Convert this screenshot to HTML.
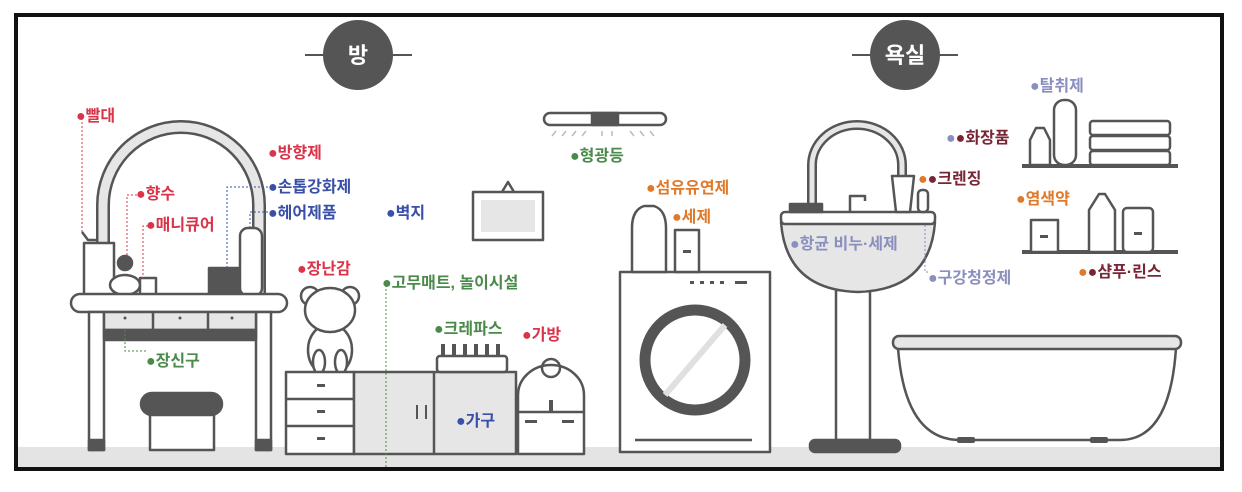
<!DOCTYPE html>
<html><head><meta charset="utf-8"><style>
html,body{margin:0;padding:0;background:#fff}
svg{display:block}
text{font-family:"Liberation Sans","Noto Sans CJK KR",sans-serif;font-weight:bold;font-size:16px}
</style></head><body>
<svg width="1242" height="492" viewBox="0 0 1242 492" xmlns="http://www.w3.org/2000/svg">
<rect x="0" y="0" width="1242" height="492" fill="#fff"/>
<rect x="16" y="447" width="1206" height="21" fill="#e4e4e4"/>
<rect x="16" y="15" width="1206" height="454" fill="none" stroke="#111" stroke-width="4"/>
<g stroke="#555" fill="none" stroke-width="2">
<line x1="305" y1="55" x2="412" y2="55"/><line x1="852" y1="55" x2="958" y2="55"/>
</g>
<circle cx="358" cy="55" r="35" fill="#555"/>
<circle cx="905" cy="55" r="35" fill="#555"/>
<text x="358" y="63" fill="#fff" text-anchor="middle" style="font-size:22px">방</text>
<text x="905" y="63" fill="#fff" text-anchor="middle" style="font-size:22px">욕실</text>

<g stroke="#555" stroke-width="2.5" fill="#fff" stroke-linejoin="round">
<path d="M103,296 V205 A78,78 0 0 1 259,205 V296" fill="none" stroke="#555" stroke-width="14"/>
<path d="M103,296 V205 A78,78 0 0 1 259,205 V296" fill="none" stroke="#e6e6e6" stroke-width="9"/>
<rect x="240" y="228" width="22" height="68" rx="8" fill="#fff"/>
<rect x="84" y="243" width="30" height="52" fill="#fff"/>
<path d="M82,232 l6,8 h10" fill="none"/>
<circle cx="125" cy="263" r="7" fill="#555"/>
<ellipse cx="125" cy="285" rx="15" ry="10"/>
<rect x="140" y="278" width="16" height="17"/>
<rect x="209" y="268" width="30" height="28" fill="#555"/>
<rect x="71" y="294" width="216" height="18" rx="9"/>
<rect x="89" y="312" width="15" height="138"/>
<rect x="256" y="312" width="15" height="138"/>
<rect x="104" y="312" width="152" height="18" fill="#e6e6e6"/>
<line x1="153" y1="312" x2="153" y2="330"/><line x1="208" y1="312" x2="208" y2="330"/>
<rect x="104" y="330" width="152" height="10" fill="#555"/>
<rect x="89" y="440" width="15" height="10" fill="#555"/>
<rect x="256" y="440" width="15" height="10" fill="#555"/>
<rect x="150" y="412" width="64" height="38"/>
<rect x="141" y="393" width="81" height="22" rx="11" fill="#555"/>
<rect x="544" y="113" width="122" height="12" rx="6"/>
<rect x="592" y="113" width="26" height="12" fill="#555"/>
<path d="M552,136 l4,-5 M562,136 l4,-5 M572,136 l4,-5 M582,136 l4,-5 M602,136 v-5 M612,136 v-5 M630,131 l4,5 M640,131 l4,5 M650,131 l4,5" stroke="#bbb" stroke-width="1.5" fill="none"/>
<path d="M502,192 l6,-10 l6,10" fill="none"/>
<rect x="473" y="192" width="70" height="48"/>
<rect x="481" y="200" width="54" height="32" fill="#e6e6e6" stroke="none"/>
<circle cx="310" cy="296" r="9"/><circle cx="350" cy="296" r="9"/>
<ellipse cx="330" cy="350" rx="22" ry="26"/>
<ellipse cx="330" cy="310" rx="25" ry="22"/>
<ellipse cx="319" cy="362" rx="6" ry="12"/><ellipse cx="341" cy="362" rx="6" ry="12"/>
<rect x="286" y="372" width="68" height="82"/>
<line x1="286" y1="399" x2="354" y2="399"/><line x1="286" y1="426" x2="354" y2="426"/>
<rect x="354" y="372" width="162" height="82" fill="#e6e6e6"/>
<line x1="434" y1="372" x2="434" y2="454"/>
<rect x="437" y="356" width="70" height="16" rx="3"/>
<path d="M518,454 V395 A33,30 0 0 1 584,395 V454 Z"/>
<line x1="518" y1="412" x2="584" y2="412"/>
<circle cx="551" cy="368" r="9" fill="none"/>
<rect x="620" y="272" width="150" height="180"/>
<circle cx="695" cy="360" r="50" fill="#fff" stroke="#555" stroke-width="11"/>
<line x1="665" y1="395" x2="725" y2="325" stroke="#e0e0e0" stroke-width="6"/>
<line x1="635" y1="440" x2="752" y2="440"/>
<path d="M632,272 V228 q0,-18 12,-22 h10 q12,4 12,22 V272 Z"/>
<rect x="675" y="230" width="24" height="42"/>
<path d="M812,205 V165 A45,40 0 0 1 902,165 V178" fill="none" stroke="#555" stroke-width="10"/>
<path d="M812,205 V165 A45,40 0 0 1 902,165 V178" fill="none" stroke="#e6e6e6" stroke-width="5"/>
<rect x="836" y="290" width="34" height="150"/>
<path d="M781,222 H935 Q930,290 858,292 Q786,290 781,222 Z" fill="#e6e6e6"/>
<rect x="781" y="212" width="154" height="12" rx="4"/>
<rect x="790" y="204" width="32" height="8" fill="#555"/>
<path d="M850,212 V196 h15 v5" fill="none"/>
<path d="M892,176 h22 l-4,36 h-14 Z"/>
<rect x="918" y="190" width="10" height="22" rx="4"/>
<rect x="810" y="440" width="90" height="12" rx="5" fill="#555"/>
<line x1="1022" y1="166" x2="1178" y2="166" stroke-width="4"/>
<line x1="1022" y1="252" x2="1178" y2="252" stroke-width="4"/>
<path d="M1030,165 V140 l6,-12 h8 l6,12 V165 Z"/>
<rect x="1054" y="100" width="22" height="65" rx="10"/>
<rect x="1090" y="121" width="80" height="14" rx="3"/>
<rect x="1090" y="136" width="80" height="14" rx="3"/>
<rect x="1090" y="151" width="80" height="14" rx="3"/>
<rect x="1031" y="220" width="27" height="32"/>
<path d="M1089,252 V210 l10,-16 h6 l10,16 V252 Z"/>
<rect x="1123" y="208" width="30" height="44" rx="4"/>
<path d="M898,348 Q905,440 960,440 H1120 Q1170,440 1176,348 Z"/>
<rect x="893" y="336" width="288" height="13" rx="6" fill="#e6e6e6"/>
</g>
<g fill="#555">
<rect x="317" y="384" width="8" height="3"/><rect x="317" y="410" width="8" height="3"/><rect x="317" y="437" width="8" height="3"/>
<rect x="416" y="405" width="2" height="14"/><rect x="425" y="405" width="2" height="14"/>
<rect x="441" y="344" width="4" height="12"/><rect x="452" y="344" width="4" height="12"/><rect x="463" y="344" width="4" height="12"/><rect x="474" y="344" width="4" height="12"/><rect x="485" y="344" width="4" height="12"/><rect x="496" y="344" width="4" height="12"/>
<rect x="525" y="420" width="12" height="3"/><rect x="562" y="420" width="12" height="3"/>
<rect x="549" y="400" width="4" height="12"/>
<rect x="683" y="250" width="8" height="3"/>
<rect x="1040" y="235" width="8" height="3"/><rect x="1134" y="232" width="8" height="3"/>
<rect x="957" y="437" width="18" height="6" rx="2"/><rect x="1090" y="437" width="18" height="6" rx="2"/>
<circle cx="125" cy="318" r="1.5"/><circle cx="180" cy="318" r="1.5"/><circle cx="232" cy="318" r="1.5"/>
<rect x="690" y="281" width="4" height="3"/><rect x="700" y="281" width="4" height="3"/><rect x="710" y="281" width="4" height="3"/><rect x="720" y="281" width="4" height="3"/><rect x="735" y="281" width="12" height="3"/>
</g>
<g fill="none" stroke-width="1" stroke-dasharray="2,2">
<path d="M82,118 V232" stroke="#d9344a"/>
<path d="M137,195 H127 V255" stroke="#d9344a"/>
<path d="M148,226 H143 V278" stroke="#d9344a"/>
<path d="M268,187 H227 V268" stroke="#3a4fa8"/>
<path d="M268,212 H250 V228" stroke="#3a4fa8"/>
<path d="M125,330 V351 H148" stroke="#4a8a4a"/>
<path d="M386,285 V468" stroke="#4a8a4a"/>
<path d="M925,225 V272 H928" stroke="#8a8fbf"/>
</g>
<g>
<text x="76" y="121" fill="#d9344a">●빨대</text>
<text x="136" y="199" fill="#d9344a">●향수</text>
<text x="146" y="230" fill="#d9344a">●매니큐어</text>
<text x="268" y="158" fill="#d9344a">●방향제</text>
<text x="268" y="192" fill="#3a4fa8">●손톱강화제</text>
<text x="268" y="218" fill="#3a4fa8">●헤어제품</text>
<text x="386" y="218" fill="#3a4fa8">●벽지</text>
<text x="297" y="274" fill="#d9344a">●장난감</text>
<text x="382" y="288" fill="#4a8a4a">●고무매트, 놀이시설</text>
<text x="434" y="334" fill="#4a8a4a">●크레파스</text>
<text x="522" y="340" fill="#d9344a">●가방</text>
<text x="456" y="426" fill="#3a4fa8">●가구</text>
<text x="146" y="366" fill="#4a8a4a">●장신구</text>
<text x="570" y="161" fill="#4a8a4a">●형광등</text>
<text x="646" y="193" fill="#e07a2a">●섬유유연제</text>
<text x="672" y="222" fill="#e07a2a">●세제</text>
<text x="1030" y="91" fill="#8a8fbf">●탈취제</text>
<text x="946" y="143" fill="#7a2535"><tspan fill="#8a8fbf">●</tspan>●화장품</text>
<text x="918" y="184" fill="#7a2535"><tspan fill="#e07a2a">●</tspan>●크렌징</text>
<text x="1016" y="204" fill="#e07a2a">●염색약</text>
<text x="790" y="249" fill="#8a8fbf">●항균 비누·세제</text>
<text x="928" y="283" fill="#8a8fbf">●구강청정제</text>
<text x="1078" y="277" fill="#7a2535"><tspan fill="#e07a2a">●</tspan>●샴푸·린스</text>
</g>
</svg>
</body></html>
